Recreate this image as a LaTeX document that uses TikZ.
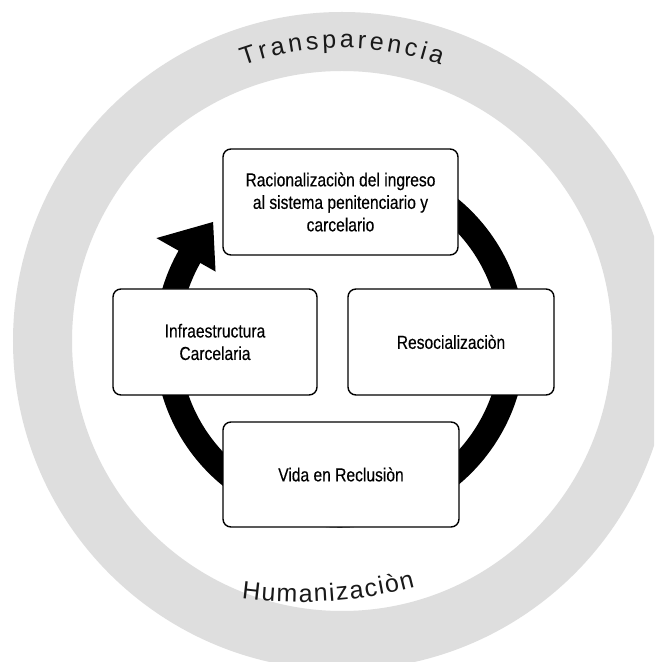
\documentclass[tikz,border=0pt]{standalone}
\usepackage{fontspec}
\setmainfont{Liberation Sans}
\newfontfamily\boxfont[FakeStretch=0.83,FakeBold=0.3]{Liberation Sans}
\usetikzlibrary{calc}
\definecolor{ringgray}{RGB}{222,222,222}
\tikzset{
  stagebox/.style={draw=black, line width=1.4pt, rounded corners=8pt, fill=white,
    align=center, inner sep=0pt, font=\boxfont\fontsize{18.8}{22.5}\selectfont},
  ringletter/.style={inner sep=0pt, anchor=base, text=black!90, font=\fontsize{25}{30}\selectfont},
  cyclearrow/.style={line width=25pt, draw=black, line cap=butt}
}
\begin{document}
\begin{tikzpicture}[x=1pt,y=1pt]
\useasboundingbox (0,0) rectangle (654,662);
\clip (0,0) rectangle (654,662);
\fill[white] (0,0) rectangle (654,662);
% ring
\coordinate (R) at (342,321);
\draw[ringgray, line width=59pt] (R) circle[radius=299.5];
% ring texts
\foreach \c/\a [count=\i] in {T/-18.24, r/-15.24, a/-12.39, n/-8.99, s/-5.72, p/-2.45, a/0.95, r/3.80, e/6.66, n/10.06, c/13.33, i/15.78, a/18.37}
  \node[ringletter, rotate=-\a] (tr\i) at ($(R)+({90-\a}:293)$) {\c};
\coordinate (H) at (300,510);
\foreach \c/\a [count=\i] in {H/-6.29, u/-4.07, m/-1.67, a/0.74, n/2.70, i/4.13, z/5.47, a/7.34, c/9.21, i/10.55, ò/11.98, n/13.94}
  \node[ringletter, rotate=\a] (hu\i) at ($(H)+({-90+\a}:450)$) {\c};
% cycle arrow
\coordinate (A) at (340,320);
\draw[cyclearrow] ($(A)+(100:173)$) arc[start angle=100, end angle=-212, radius=173];
\coordinate (tip) at ($(A)+(136.6:174.7)$);
\coordinate (hout) at ($(A)+(150.5:211)$);
\coordinate (hin) at ($(A)+(150.5:143)$);
\fill[black] (tip) -- (hout) -- (hin) -- cycle;
% boxes
\node[stagebox, minimum width=235pt, minimum height=106pt] (top) at (340.5,460)
  {Racionalizaciòn del ingreso\\al sistema penitenciario y\\carcelario};
\node[stagebox, minimum width=204pt, minimum height=106pt] (left) at (215,320)
  {Infraestructura\\Carcelaria};
\node[stagebox, minimum width=206pt, minimum height=106pt] (right) at (451,320)
  {Resocializaciòn};
\node[stagebox, minimum width=236pt, minimum height=105pt] (bottom) at (341,187.5)
  {Vida en Reclusiòn};
\end{tikzpicture}
\end{document}
